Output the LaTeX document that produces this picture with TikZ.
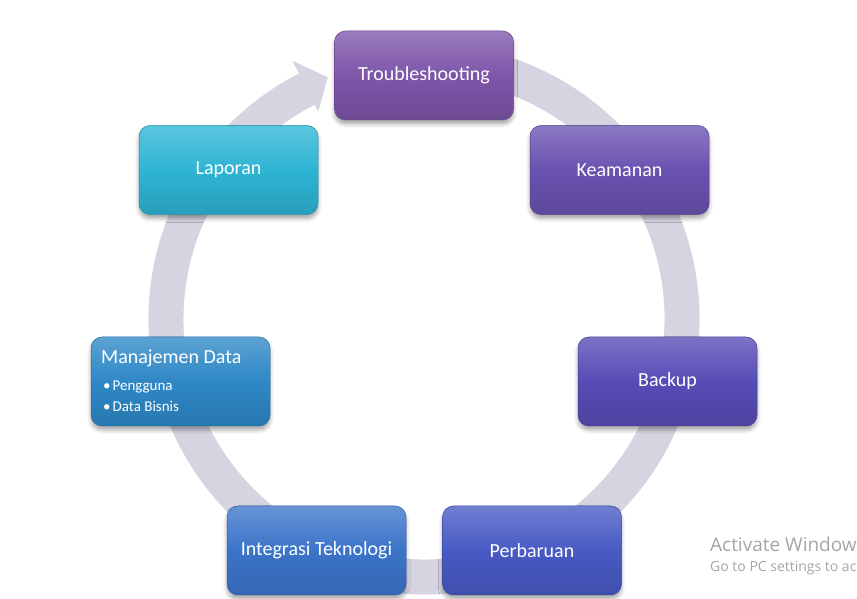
\documentclass[tikz,border=0pt]{standalone}
\usepackage{fontspec}
\setmainfont{Carlito}
\newfontfamily\wmfont{Open Sans}
\usetikzlibrary{calc,shadows.blur}
\definecolor{ringc}{RGB}{214,212,225}
\definecolor{cT}{RGB}{126,86,170}
\definecolor{cK}{RGB}{106,82,176}
\definecolor{cB}{RGB}{86,76,182}
\definecolor{cP}{RGB}{72,90,196}
\definecolor{cI}{RGB}{60,116,202}
\definecolor{cM}{RGB}{46,136,198}
\definecolor{cL}{RGB}{46,180,212}
\definecolor{wmc}{RGB}{165,165,165}
\tikzset{
  stepbox/.style={rounded corners=11pt, minimum width=179pt, minimum height=89pt,
    draw=#1!80!black, line width=0.5pt,
    top color=#1!78!white, bottom color=#1!88!black, middle color=#1,
    text=white, font=\fontsize{20}{24}\selectfont, inner sep=0pt,
    blur shadow={shadow xshift=0pt, shadow yshift=-4pt, shadow opacity=35, shadow blur radius=4pt}},
  boxtext/.style={anchor=base west, inner sep=0pt, text=white},
  wmtext/.style={anchor=base west, inner sep=0pt, text=wmc},
}
\begin{document}
\begin{tikzpicture}[x=1pt,y=1pt]
\useasboundingbox (0,0) rectangle (857,599);
\clip (0,0) rectangle (857,599);
\coordinate (C) at (424,280);
% circular arrow
\draw[ringc, line width=35pt] ($(C)+(80:258)$) arc[start angle=80, end angle=-243.5, radius=258];
\fill[ringc] ($(C)+(117:290)$) -- ($(C)+(117:259)+(27:24)$) -- ($(C)+(117:233)$) -- cycle;
% steps
\node[stepbox=cT] (T) at (424,523.5) {Troubleshooting};
\node[stepbox=cK] (K) at (619.5,429) {Keamanan};
\node[stepbox=cB] (B) at (667.5,217.5) {Backup};
\node[stepbox=cP] (P) at (532,48.5) {Perbaruan};
\node[stepbox=cI] (I) at (316.5,48.5) {Integrasi Teknologi};
\node[stepbox=cM] (M) at (180.5,217.5) {};
\node[stepbox=cL] (L) at (228.5,429) {Laporan};
\node[boxtext, font=\fontsize{20}{24}\selectfont] (Mt) at (101,235) {Manajemen Data};
\node[boxtext, font=\fontsize{15}{18}\selectfont] (M1) at (103,208) {•\hspace{2pt}Pengguna};
\node[boxtext, font=\fontsize{15}{18}\selectfont] (M2) at (103,187.5) {•\hspace{2pt}Data Bisnis};
% watermark (cut at the right edge, as in the reference)
\node[wmtext, font=\wmfont\fontsize{19}{22}\selectfont] (W1) at (710,47) {Activate Window};
\node[wmtext, font=\wmfont\fontsize{14}{16}\selectfont] (W2) at (710,27) {Go to PC settings to ac};
\end{tikzpicture}
\end{document}
